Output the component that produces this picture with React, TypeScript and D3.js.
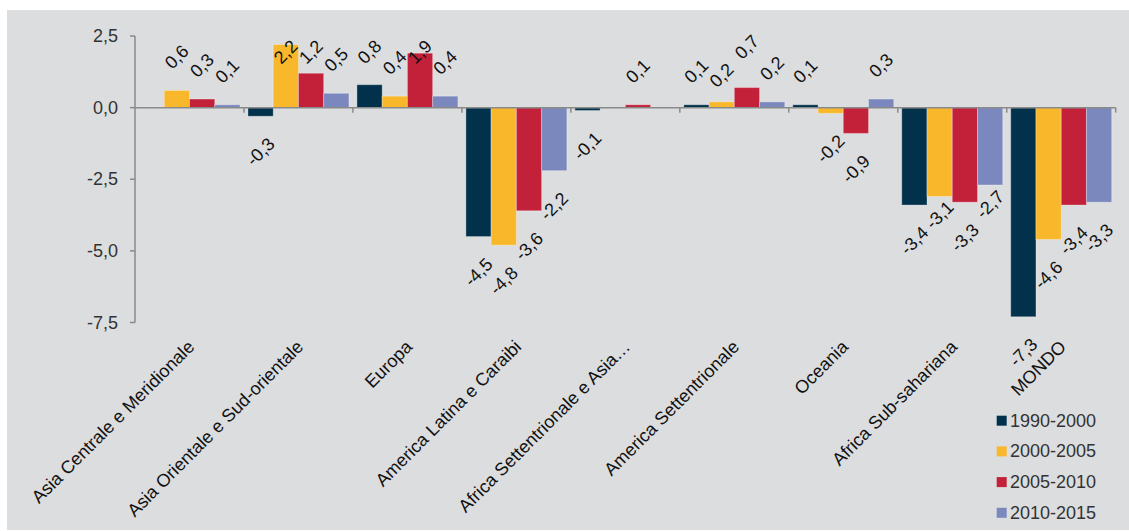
import React from "react";
import * as d3 from "d3";

const categories = [
  "Asia Centrale e Meridionale",
  "Asia Orientale e Sud-orientale",
  "Europa",
  "America Latina e Caraibi",
  "Africa Settentrionale e Asia…",
  "America Settentrionale",
  "Oceania",
  "Africa Sub-sahariana",
  "MONDO",
];
const seriesNames = ["1990-2000", "2000-2005", "2005-2010", "2010-2015"];
const s1990 = [0.02, -0.3, 0.8, -4.5, -0.1, 0.1, 0.1, -3.4, -7.3];
const s2000 = [0.6, 2.2, 0.4, -4.8, 0.0, 0.2, -0.2, -3.1, -4.6];
const s2005 = [0.3, 1.2, 1.9, -3.6, 0.1, 0.7, -0.9, -3.3, -3.4];
const s2010 = [0.1, 0.5, 0.4, -2.2, 0.0, 0.2, 0.3, -2.7, -3.3];
const yTicks = [2.5, 0, -2.5, -5, -7.5];
const colors = ["#02324b", "#f9b82b", "#c3203a", "#7b88bd"];

// small vertical nudges of overlapping data labels ("category-series" -> px)
const labelNudge: Record<string, number> = {
  "7-1": -17,
  "7-3": -16,
  "5-1": 7,
  "5-2": -7,
};

const W = 1129;
const H = 531;
const FONT = "'Liberation Sans', Arial, sans-serif";

const fmt = (v: number) => d3.format(".1f")(v).replace("\u2212", "-").replace(".", ",");

// approximate Arial widths (em)
const textLen = (s: string, fs: number) => {
  let w = 0;
  for (const ch of s) {
    if (ch === ",") w += 0.278;
    else if (ch === "-") w += 0.333;
    else w += 0.556;
  }
  return w * fs;
};

export default function App() {
  const allSeries = [s1990, s2000, s2005, s2010];
  const x0 = d3.scaleBand<string>().domain(categories).range([135, 1115.7]).paddingInner(0).paddingOuter(0);
  const bw = x0.bandwidth();
  const x1 = d3.scaleBand<string>().domain(seriesNames).range([4, bw - 4]).padding(0);
  const y = d3.scaleLinear().domain([-7.5, 2.5]).range([322.5, 36]);
  const y0 = y(0);
  const fs = 18;

  const bars: any[] = [];
  const labels: any[] = [];
  categories.forEach((c, ci) => {
    seriesNames.forEach((s, si) => {
      const v = allSeries[si][ci];
      const bx = (x0(c) as number) + (x1(s) as number);
      const w = x1.bandwidth();
      const top = Math.min(y(v), y0);
      const h = Math.abs(y(v) - y0);
      if (h > 0) {
        bars.push(
          <rect key={`b${ci}-${si}`} x={bx} y={top} width={w} height={h} fill={colors[si]}
            stroke="#ffffff" strokeOpacity={0.3} strokeWidth={1} />
        );
      }
      if (Math.abs(v) >= 0.05) {
        const t = fmt(v);
        const off = 19 + (textLen(t, fs) + 16) * 0.354;
        const cx = bx + w / 2;
        let cy = v >= 0 ? y(v) - off : y(v) + off;
        if (v >= 0) cy = Math.max(cy, 52);
        cy += labelNudge[`${ci}-${si}`] || 0;
        labels.push(
          <text key={`l${ci}-${si}`} transform={`translate(${cx},${cy}) rotate(-45)`}
            textAnchor="middle" dominantBaseline="central" fontSize={fs} fill="#111">{t}</text>
        );
      }
    });
  });

  return (
    <div>
      <style>{`body{margin:0}`}</style>
      <svg width={W} height={H} style={{ display: "block", fontFamily: FONT }}>
        <rect x={0} y={0} width={W} height={H} fill="#ffffff" />
        <rect x={7} y={10} width={W - 7} height={520} fill="#dcdddf" />
        {bars}
        {/* y axis */}
        <line x1={135} x2={135} y1={y(2.5)} y2={y(-7.5)} stroke="#8a8a8a" strokeWidth={1.5} />
        {yTicks.map((t) => (
          <g key={`yt${t}`}>
            <line x1={130} x2={135} y1={y(t)} y2={y(t)} stroke="#8a8a8a" strokeWidth={1.5} />
            <text x={118} y={y(t)} textAnchor="end" dominantBaseline="central" fontSize={fs} fill="#333">{fmt(t)}</text>
          </g>
        ))}
        {/* x axis */}
        <line x1={135} x2={1115.7} y1={y0} y2={y0} stroke="#8a8a8a" strokeWidth={1.5} />
        {categories.map((c, i) => (
          <line key={`xt${i}`} x1={(x0(c) as number) + bw} x2={(x0(c) as number) + bw} y1={y0} y2={y0 + 5} stroke="#8a8a8a" strokeWidth={1.5} />
        ))}
        {labels}
        {categories.map((c, i) => {
          const cx = (x0(c) as number) + bw / 2;
          return (
            <text key={`cl${i}`} transform={`translate(${cx + 6},${348}) rotate(-45)`} textAnchor="end" fontSize={fs} fill="#111">{c}</text>
          );
        })}
        {/* legend */}
        {seriesNames.map((s, i) => {
          const cy = 420.7 + i * 30.7;
          return (
            <g key={`lg${i}`}>
              <rect x={996.7} y={cy - 5} width={10} height={10} fill={colors[i]} />
              <text x={1010} y={cy} dominantBaseline="central" fontSize={fs} fill="#333">{s}</text>
            </g>
          );
        })}
      </svg>
    </div>
  );
}
